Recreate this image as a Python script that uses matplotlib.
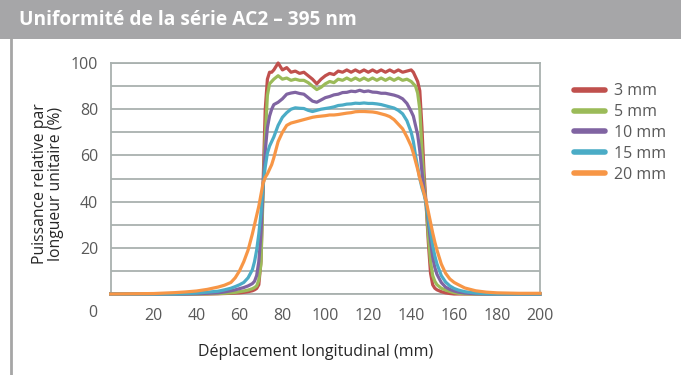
import matplotlib
matplotlib.use("Agg")
import matplotlib.pyplot as plt
from matplotlib.patches import Rectangle
from matplotlib.lines import Line2D

plt.rcParams['font.family'] = ['Open Sans', 'DejaVu Sans']

title = "Uniformité de la série AC2 – 395 nm"
xlabel = "Déplacement longitudinal (mm)"
ylabel = "Puissance relative par\nlongueur unitaire (%)"
series_names = ["3 mm", "5 mm", "10 mm", "15 mm", "20 mm"]
colors = ["#C0504D", "#9BBB59", "#8064A2", "#4BACC6", "#F79646"]
xticks = [20, 40, 60, 80, 100, 120, 140, 160, 180, 200]
yticks = [20, 40, 60, 80, 100]

x = [0, 10, 20, 30, 35, 40, 45, 50, 53, 56,
     58, 60, 62, 64, 66, 67, 68, 69, 70, 71,
     72, 73, 74, 75, 76, 78, 80, 82, 84, 86,
     88, 90, 92, 94, 96, 98, 100, 102, 104, 106,
     108, 110, 112, 114, 116, 118, 120, 122, 124, 126,
     128, 130, 132, 134, 136, 138, 140, 141, 142, 143,
     144, 145, 146, 147, 148, 149, 150, 151, 152, 154,
     156, 158, 160, 162, 165, 170, 175, 180, 190, 200]

mm3 = [0, 0, 0, 0, 0, 0, 0, 0.1, 0.2, 0.3,
       0.4, 0.5, 0.7, 1, 1.4, 1.8, 2.4, 4, 14, 48,
       80, 93, 96, 96, 97, 100, 97, 98, 96, 96.5,
       95.5, 96, 94.5, 93, 91, 93, 94.5, 95.5, 95, 96.5,
       96, 97, 96, 97, 96, 97, 96, 97, 96, 97,
       96, 97, 96, 97, 96, 96.5, 97, 96, 94, 92,
       88, 72, 52, 38, 22, 9, 4, 2.5, 1.8, 1,
       0.5, 0.2, 0, 0, 0, 0, 0, 0, 0, 0]

mm5 = [0, 0, 0, 0, 0, 0, 0.1, 0.2, 0.3, 0.5,
       0.7, 1, 1.3, 1.7, 2.3, 2.8, 3.5, 6, 13, 44,
       68, 86, 91, 92, 93, 94.5, 93, 93.5, 92.5, 93,
       92.5, 92.5, 91.5, 90, 88.5, 89.5, 91, 92, 91.5, 93,
       92.5, 93.5, 92.5, 93.5, 92.5, 93.5, 92.5, 93.5, 92.5, 93.5,
       92.5, 93.5, 92.5, 93.5, 92.5, 93, 92, 91, 90, 87,
       80, 62, 48, 38, 25, 14, 8, 5.5, 4, 2.5,
       1.7, 1.1, 0.6, 0.3, 0.1, 0, 0, 0, 0, 0]

mm10 = [0, 0, 0, 0, 0, 0.1, 0.3, 0.5, 0.9, 1.4,
        1.8, 2.3, 2.8, 3.5, 4.5, 5.5, 8, 14, 26, 46,
        62, 72, 77, 80, 82, 83, 84.5, 86.5, 87, 87.3,
        86.8, 86.5, 85, 83.5, 83, 84, 85, 85.5, 86.2, 86.5,
        87.2, 87.3, 87.8, 87.6, 88.2, 87.6, 87.9, 87.4, 87.3, 86.9,
        86.9, 86.5, 86.1, 85.5, 84.5, 82.5, 79, 77, 73, 69,
        62, 53, 45, 39, 31, 23, 16, 11.5, 8.5, 5,
        3, 2, 1.3, 0.8, 0.4, 0.1, 0, 0, 0, 0]

mm15 = [0, 0, 0, 0, 0.2, 0.4, 0.8, 1.2, 1.8, 2.5,
        3.2, 4, 5, 7, 10.5, 14, 19, 26, 35, 47,
        55, 61, 64, 66, 68, 73, 76.5, 78.5, 80, 80.6,
        80.4, 80.3, 79.5, 79, 79.5, 80, 80.3, 80.6, 81, 81.6,
        81.8, 82.2, 82.3, 82.6, 82.5, 82.7, 82.5, 82.5, 82.3, 82,
        81.5, 81, 80.5, 79.5, 78, 75, 70, 66, 60, 55,
        50, 46, 43, 39, 33, 27, 21, 16.5, 13, 8,
        5.2, 3.5, 2.4, 1.7, 1, 0.4, 0.1, 0, 0, 0]

mm20 = [0, 0.1, 0.2, 0.6, 0.9, 1.3, 2, 3, 3.8, 5,
        7, 10, 14, 19, 26, 30, 34, 38, 43, 48,
        50.5, 52, 54, 56, 59, 66, 70, 73, 74, 74.5,
        75, 75.5, 76, 76.5, 76.8, 77, 77.2, 77.5, 77.5, 77.7,
        78, 78.3, 78.5, 78.9, 79, 79, 78.9, 78.8, 78.5, 78,
        77.5, 76.8, 75.5, 73.5, 71.5, 68, 64, 61, 57.5, 54,
        50, 47, 43.5, 40, 35.5, 31, 26.5, 22.5, 19, 13,
        9, 6.5, 5, 4, 2.6, 1.4, 0.8, 0.5, 0.3, 0.3]

W, H = 681, 375
fig = plt.figure(figsize=(W / 100, H / 100), dpi=100)
fig.patch.set_facecolor("white")

# title bar
fig.patches.append(Rectangle((0, 1 - 39 / H), 1, 39 / H, transform=fig.transFigure,
                             facecolor="#A6A6A8", edgecolor="none", zorder=0))
fig.text(19 / W, 1 - 20 / H, title, color="white", fontsize=13.8, fontweight="bold",
         ha="left", va="center")
# left frame line
fig.add_artist(Line2D([11 / W, 11 / W], [0, 1 - 39 / H], transform=fig.transFigure,
                      color="#A6A6A6", lw=2))

ax = fig.add_axes([110.7 / W, 81 / H, (540 - 110.7) / W, (294 - 63) / H])
grid_c = "#A9B1AF"
for yv in range(0, 101, 10):
    ax.axhline(yv, color=grid_c, lw=1.3, zorder=1)
for s in ax.spines.values():
    s.set_color(grid_c)
    s.set_linewidth(1.3)

data = [mm3, mm5, mm10, mm15, mm20]
for name, vals, c in zip(series_names, data, colors):
    ax.plot(x, vals, color=c, lw=2.3, label=name, clip_on=False, zorder=3,
            solid_joinstyle="round")

ax.set_xlim(0, 200)
ax.set_ylim(0, 100)
ax.set_xticks(xticks)
ax.set_yticks(yticks)
tick_c = "#595959"
ax.tick_params(length=0, labelsize=11.5, labelcolor=tick_c)
ax.tick_params(axis="x", pad=10)
ax.tick_params(axis="y", pad=9)
ax.text(93 / W, 1 - 313 / H, "0", transform=fig.transFigure, fontsize=11.5,
        color=tick_c, ha="center", va="center")

fig.text(316 / W, 1 - 352 / H, xlabel, fontsize=11.5, color="#262626",
         ha="center", va="center")
fig.text(48 / W, 1 - 184 / H, ylabel, fontsize=11.3, color="#262626",
         ha="center", va="center", rotation=90, linespacing=1.05)

leg = fig.legend(loc="upper left", bbox_to_anchor=(560 / W, 1 - 69 / H),
                 frameon=False, fontsize=11.5, handlelength=1.9, handletextpad=0.55,
                 labelspacing=0.3, labelcolor=tick_c)
for h in leg.get_lines():
    h.set_linewidth(4)
    h.set_solid_capstyle("round")

fig.savefig("out.png", dpi=100)
